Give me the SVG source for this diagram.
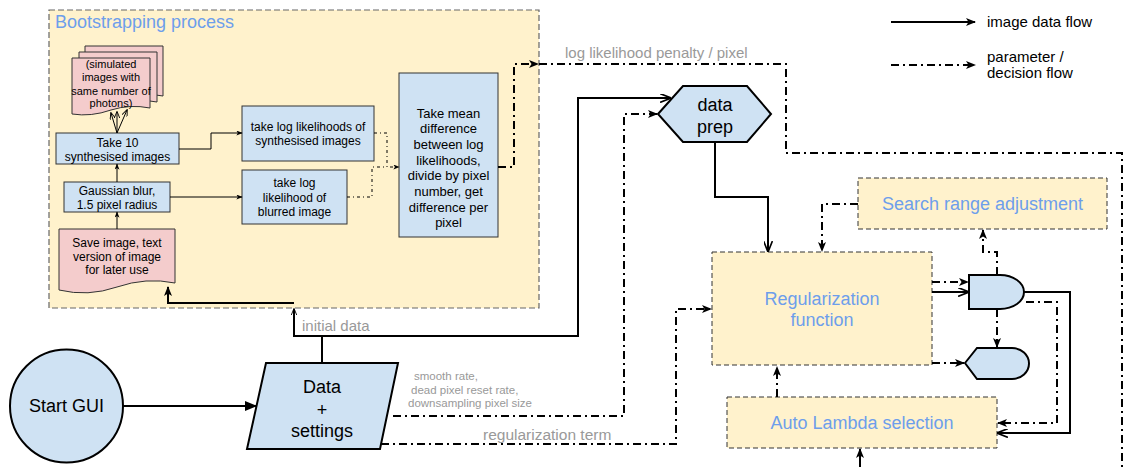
<svg xmlns="http://www.w3.org/2000/svg" width="1131" height="467" viewBox="0 0 1131 467">
<defs>
<style>
.t{font-family:"Liberation Sans",Arial,sans-serif;fill:#000;text-anchor:middle}
.lt{font-family:"Liberation Sans",Arial,sans-serif;fill:#6d9eeb;text-anchor:middle;font-size:18px}
.gl{font-family:"Liberation Sans",Arial,sans-serif;fill:#999}
.blue{fill:#cfe2f3;stroke:#000;stroke-width:2}
.sb{fill:#cfe2f3;stroke:#333;stroke-width:1}
.pink{fill:#f4cccc;stroke:#333;stroke-width:1}
.yel{fill:#fff2cc;stroke:#333;stroke-width:1;stroke-dasharray:5 3}
.s{fill:none;stroke:#000;stroke-width:2}
.d{fill:none;stroke:#000;stroke-width:2;stroke-dasharray:8 4 2 4}
.s1{fill:none;stroke:#000;stroke-width:1}
.d1{fill:none;stroke:#000;stroke-width:1;stroke-dasharray:3 3 1 3}
</style>
<marker id="af" viewBox="0 0 10 8" refX="9" refY="4" markerWidth="10" markerHeight="8" markerUnits="userSpaceOnUse" orient="auto"><path d="M0,0 L10,4 L0,8 L2.5,4 z" fill="#000"/></marker>
<marker id="ab" viewBox="0 0 10 8" refX="9" refY="4" markerWidth="13" markerHeight="10" markerUnits="userSpaceOnUse" orient="auto"><path d="M0,0 L10,4 L0,8 z" fill="#000"/></marker>
<marker id="ao" viewBox="0 0 10 8" refX="9" refY="4" markerWidth="11" markerHeight="9" markerUnits="userSpaceOnUse" orient="auto"><path d="M0,0 L10,4 L0,8" fill="none" stroke="#000" stroke-width="1.5"/></marker>
<marker id="sf" viewBox="0 0 10 8" refX="9" refY="4" markerWidth="7" markerHeight="5" markerUnits="userSpaceOnUse" orient="auto"><path d="M0,0 L10,4 L0,8 L2.5,4 z" fill="#000"/></marker>
<marker id="so" viewBox="0 0 10 8" refX="9" refY="4" markerWidth="7" markerHeight="6" markerUnits="userSpaceOnUse" orient="auto"><path d="M0,0 L10,4 L0,8" fill="none" stroke="#000" stroke-width="1.3"/></marker>
</defs>
<rect width="1131" height="467" fill="#fff"/>

<g id="bootstrapping">
<rect x="49" y="10" width="490" height="298" fill="#fff2cc" stroke="#666" stroke-width="1.2" stroke-dasharray="6 3"/>
<text x="55" y="28" class="gl" style="fill:#6d9eeb;font-size:18px">Bootstrapping process</text>
</g>

<g id="simulated">
<path class="pink" d="M85,46 H163 V96 Q143,92 124,98 Q104,105 85,102 Z"/>
<path class="pink" d="M79,52 H157 V102 Q137,98 118,104 Q98,111 79,108 Z"/>
<path class="pink" d="M72,58 H150 V108 Q130,104 111,110 Q91,117 72,114 Z"/>
<text class="t" font-size="11"><tspan x="111" y="68">(simulated</tspan><tspan x="111" y="81">images with</tspan><tspan x="111" y="95">same number of</tspan><tspan x="111" y="107">photons)</tspan></text>
</g>

<g id="take10">
<rect class="sb" x="56" y="133" width="123" height="31"/>
<text class="t" font-size="12"><tspan x="117.5" y="147">Take 10</tspan><tspan x="117.5" y="161">synthesised images</tspan></text>
</g>

<g id="gaussian">
<rect class="sb" x="64" y="182" width="106" height="30"/>
<text class="t" font-size="12"><tspan x="117" y="195">Gaussian blur,</tspan><tspan x="117" y="209">1.5 pixel radius</tspan></text>
</g>

<g id="save">
<path class="pink" d="M59,229 H175 V283 Q146,277 117,287 Q88,297 59,290 Z"/>
<text class="t" font-size="12"><tspan x="117" y="247">Save image, text</tspan><tspan x="117" y="261">version of image</tspan><tspan x="117" y="274">for later use</tspan></text>
</g>

<g id="llsynth">
<rect class="sb" x="242" y="106" width="132" height="55"/>
<text class="t" font-size="12"><tspan x="308" y="131">take log likelihoods of</tspan><tspan x="308" y="145">synthesised images</tspan></text>
</g>

<g id="llblur">
<rect class="sb" x="242" y="170" width="105" height="54"/>
<text class="t" font-size="12"><tspan x="294.5" y="187">take log</tspan><tspan x="294.5" y="202">likelihood of</tspan><tspan x="294.5" y="216">blurred image</tspan></text>
</g>

<g id="takemean">
<rect class="sb" x="399" y="73" width="99" height="164"/>
<text class="t" font-size="13"><tspan x="448.5" y="117.5">Take mean</tspan><tspan x="448.5" y="133.2">difference</tspan><tspan x="448.5" y="148.9">between log</tspan><tspan x="448.5" y="164.6">likelihoods,</tspan><tspan x="448.5" y="180.3">divide by pixel</tspan><tspan x="448.5" y="196">number, get</tspan><tspan x="448.5" y="211.7">difference per</tspan><tspan x="448.5" y="227.4">pixel</tspan></text>
</g>

<g id="startgui">
<circle class="blue" cx="66.5" cy="406" r="56.5"/>
<text class="t" font-size="18" x="66.5" y="412">Start GUI</text>
</g>

<g id="data">
<path class="blue" d="M266,363 H398 L380,449 H247 Z"/>
<text class="t" font-size="18"><tspan x="322" y="393">Data</tspan><tspan x="322" y="416">+</tspan><tspan x="322" y="437">settings</tspan></text>
</g>

<g id="dataprep">
<path class="blue" d="M658,114 L683,86 H747 L771,114 L747,142 H683 Z"/>
<text class="t" font-size="18"><tspan x="715" y="111">data</tspan><tspan x="715" y="133">prep</tspan></text>
</g>

<g id="search">
<rect class="yel" x="858" y="178" width="249" height="51"/>
<text class="lt" x="982.5" y="210">Search range adjustment</text>
</g>

<g id="regfunc">
<rect class="yel" x="712" y="252" width="220" height="113"/>
<text class="lt"><tspan x="822" y="305">Regularization</tspan><tspan x="822" y="326">function</tspan></text>
</g>

<g id="autolambda">
<rect class="yel" x="727" y="397" width="270" height="51"/>
<text class="lt" x="862" y="429">Auto Lambda selection</text>
</g>

<g id="gate">
<path class="blue" d="M969,275 H1000 A24,17 0 0 1 1000,309 H969 Z"/>
</g>

<g id="display">
<path class="blue" d="M965,363 L977,348 H1012 A17,15.5 0 0 1 1012,379 H977 Z"/>
</g>

<g id="legend">
<line class="s" x1="891" y1="22" x2="975" y2="22" marker-end="url(#af)"/>
<text x="987" y="27" class="gl" style="fill:#000;font-size:15px">image data flow</text>
<line class="d" x1="891" y1="65" x2="975" y2="65" marker-end="url(#af)"/>
<text class="gl" style="fill:#000;font-size:15px"><tspan x="987" y="62">parameter /</tspan><tspan x="987" y="78">decision flow</tspan></text>
</g>

<g id="connectors">
<path class="s1" d="M117,133 L111,113" marker-end="url(#so)"/>
<path class="s1" d="M117,133 L117,112" marker-end="url(#so)"/>
<path class="s1" d="M117,133 L127,110" marker-end="url(#so)"/>
<path class="s1" d="M117,182 V164" marker-end="url(#sf)"/>
<path class="s1" d="M117,229 V212" marker-end="url(#sf)"/>
<path class="s1" d="M179,149 H211 V133 H242" marker-end="url(#sf)"/>
<path class="s1" d="M170,197 H242" marker-end="url(#sf)"/>
<path class="d1" d="M374,133 H387 V167 H399" marker-end="url(#sf)"/>
<path class="d1" d="M347,197 H372 V167 H387"/>

<path class="d" d="M498,167 H514 V64 H538" marker-end="url(#af)"/>
<path class="d" d="M539,64 H786 V153 H1122 V470"/>
<text x="565" y="58" class="gl" font-size="15">log likelihood penalty / pixel</text>

<path class="s" d="M322,363 V336 H578 V98 H670" marker-end="url(#ao)"/>
<path class="s" d="M322,336 H294 V309" marker-end="url(#so)"/>
<path class="s" d="M294,303 H168 V287" marker-end="url(#af)"/>
<text x="302" y="331" class="gl" font-size="15">initial data</text>

<path class="s" d="M123,406 H256" marker-end="url(#ab)"/>

<path class="d" d="M393,416 H624 V114 H657" marker-end="url(#af)"/>
<text class="gl" font-size="11.5"><tspan x="414" y="380">smooth rate,</tspan><tspan x="411" y="394">dead pixel reset rate,</tspan><tspan x="408" y="407">downsampling pixel size</tspan></text>
<path class="d" d="M381,444 H676 V309 H711" marker-end="url(#af)"/>
<text x="483" y="440" class="gl" font-size="15.5">regularization term</text>

<path class="s" d="M715,142 V197 H768 V251" marker-end="url(#ao)"/>
<path class="d" d="M858,204 H822 V251" marker-end="url(#af)"/>
<path class="d" d="M932,282 H968" marker-end="url(#af)"/>
<path class="s" d="M932,292 H968" marker-end="url(#ao)"/>
<path class="d" d="M997,275 V252 H983 V230" marker-end="url(#af)"/>
<path class="d" d="M997,309 V347" marker-end="url(#af)"/>
<path class="d" d="M932,363 H964" marker-end="url(#af)"/>
<path class="s" d="M1024,292 H1070 V433 H998" marker-end="url(#ao)"/>
<path class="d" d="M1026,302 H1057 V423 H998" marker-end="url(#af)"/>
<path class="d" d="M777,397 V367" marker-end="url(#af)"/>
<path class="s" d="M860,470 V449" marker-end="url(#af)"/>
</g>
</svg>
